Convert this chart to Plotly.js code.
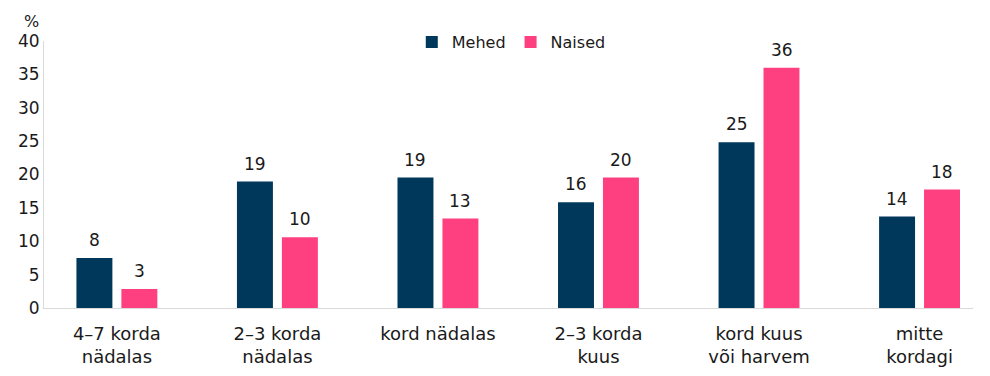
<!DOCTYPE html>
<html>
<head>
<meta charset="utf-8">
<script src="https://cdn.plot.ly/plotly-3.0.1.min.js"></script>
<style>html,body{margin:0;padding:0;background:#fff;}#chart{width:990px;height:376px;}</style>
</head>
<body>
<div id="chart"></div>
<script>
const categories = ["4–7 korda<br>nädalas", "2–3 korda<br>nädalas", "kord nädalas", "2–3 korda<br>kuus", "kord kuus<br>või harvem", "mitte<br>kordagi"];
const seriesNames = ["Mehed", "Naised"];
const mehed = [7.5, 18.95, 19.55, 15.85, 24.85, 13.7];
const naised = [2.85, 10.6, 13.4, 19.55, 36.0, 17.75];
const mehedLabels = ["8", "19", "19", "16", "25", "14"];
const naisedLabels = ["3", "10", "13", "20", "36", "18"];
const yTicks = [0, 5, 10, 15, 20, 25, 30, 35, 40];

const colors = ["#00385C", "#FF4080"];
const fontFam = "DejaVu Sans, sans-serif";
const textColor = "#1a1a1a";

const traces = [
  {type: "bar", name: seriesNames[0], x: categories, y: mehed, marker: {color: colors[0]}, hoverinfo: "none"},
  {type: "bar", name: seriesNames[1], x: categories, y: naised, marker: {color: colors[1]}, hoverinfo: "none"}
];

const annotations = [];
[[mehed, mehedLabels, -22.5], [naised, naisedLabels, 22.5]].forEach(([vals, labs, dx]) => {
  vals.forEach((v, i) => {
    annotations.push({x: categories[i], y: v, xref: "x", yref: "y", text: labs[i], showarrow: false,
      xshift: dx, yshift: 6, yanchor: "bottom", font: {family: fontFam, size: 17, color: textColor}});
  });
});
annotations.push({x: -0.013, y: 1.073, xref: "paper", yref: "paper", text: "%", showarrow: false,
  xanchor: "center", yanchor: "middle", font: {family: fontFam, size: 16, color: textColor}});

const layout = {
  width: 990, height: 376,
  margin: {l: 44, r: 17, t: 41, b: 68, pad: 0},
  paper_bgcolor: "#fff", plot_bgcolor: "#fff",
  font: {family: fontFam, size: 17, color: textColor},
  barmode: "group", bargap: 0.44, bargroupgap: 0.2,
  showlegend: true,
  legend: {orientation: "h", x: 0.503, xanchor: "center", y: 0.996, yanchor: "middle",
    font: {family: fontFam, size: 16, color: textColor}, itemwidth: 30, bgcolor: "rgba(0,0,0,0)"},
  xaxis: {type: "category", range: [-0.454, 5.333], showline: true, linecolor: "#d9d9d9", linewidth: 1,
    ticks: "", showgrid: false, zeroline: false, ticklabelstandoff: 9,
    tickfont: {family: fontFam, size: 18, color: textColor}, automargin: false},
  yaxis: {range: [0, 40], tickvals: yTicks, ticktext: yTicks.map(String), showline: true, linecolor: "#d9d9d9", linewidth: 1,
    ticks: "", showgrid: false, zeroline: false, tickfont: {family: fontFam, size: 17, color: textColor}, automargin: false},
  annotations: annotations
};

Plotly.newPlot("chart", traces, layout, {displayModeBar: false, staticPlot: true});
</script>
</body>
</html>
